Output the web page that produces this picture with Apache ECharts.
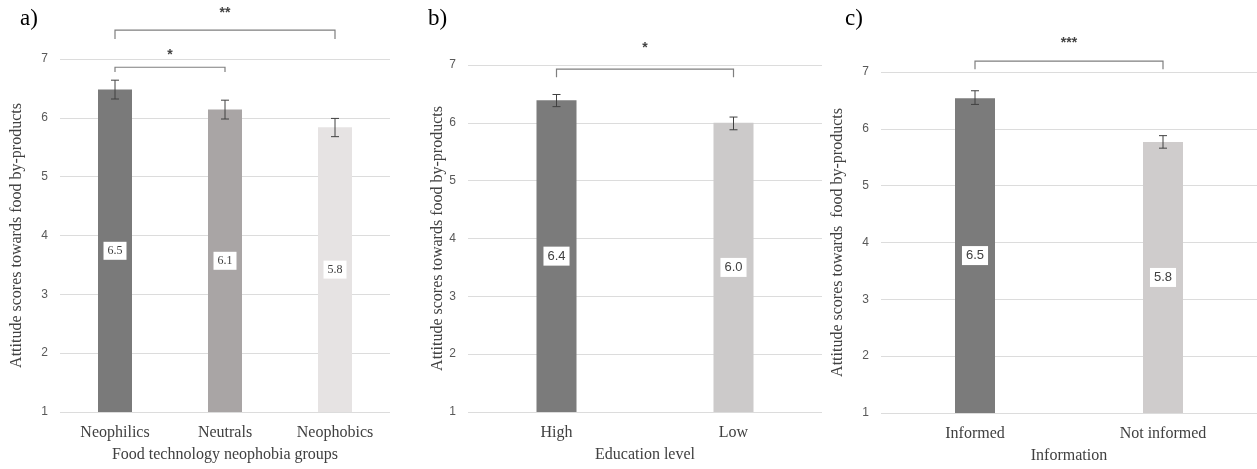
<!DOCTYPE html>
<html>
<head>
    <meta charset="utf-8">
    <title>Attitude scores</title>
    <script src="https://cdn.jsdelivr.net/npm/echarts@6/dist/echarts.min.js"></script>
</head>
<body style="margin:0;background:#fff;">
    <div id="main" style="width:1257px;height:469px;"></div>
    <script type="text/javascript">
        // a) food technology neophobia groups
        var groupsA = ['Neophilics', 'Neutrals', 'Neophobics'];
        var meanA = [6.48, 6.14, 5.84];
        var errLowA = [6.32, 5.98, 5.68];
        var errHighA = [6.64, 6.30, 5.99];
        var colorsA = ['#7a7a7a', '#a9a5a5', '#e6e3e3'];
        // brackets: [from, to, level, tickEnd, starLevel, stars]
        var bracketsA = [[0, 2, 7.49, 7.34, 7.78, '**'], [0, 1, 6.86, 6.78, 7.07, '*']];

        // b) education level
        var groupsB = ['High', 'Low'];
        var meanB = [6.39, 6.0];
        var errLowB = [6.28, 5.88];
        var errHighB = [6.49, 6.10];
        var colorsB = ['#7b7b7b', '#cccaca'];
        var bracketsB = [[0, 1, 6.93, 6.79, 7.29, '*']];

        // c) information
        var groupsC = ['Informed', 'Not informed'];
        var meanC = [6.54, 5.77];
        var errLowC = [6.43, 5.66];
        var errHighC = [6.67, 5.88];
        var colorsC = ['#7b7b7b', '#cfcccc'];
        var bracketsC = [[0, 1, 7.19, 7.05, 7.5, '***']];

        var yTitleA = 'Attitude scores towards food by-products';
        var yTitleC = 'Attitude scores towards  food by-products';
        var xTitles = ['Food technology neophobia groups', 'Education level', 'Information'];

        var serif = 'Liberation Serif';
        var sans = 'Liberation Sans';

        function xAx(i, cats, title) {
            return {
                type: 'category', gridIndex: i, data: cats,
                axisLine: { show: false }, axisTick: { show: false },
                axisLabel: { fontFamily: serif, fontSize: 16, color: '#404040', margin: 13 },
                name: title, nameLocation: 'middle', nameGap: 35,
                nameTextStyle: { fontFamily: serif, fontSize: 16, color: '#404040' }
            };
        }
        function yAx(i, title, gap) {
            return {
                type: 'value', gridIndex: i, min: 1, max: 7, interval: 1,
                axisLine: { show: false }, axisTick: { show: false },
                axisLabel: { fontFamily: sans, fontSize: 12, color: '#595959', margin: 12 },
                splitLine: { lineStyle: { color: '#dcdcdc', width: 1 } },
                name: title, nameLocation: 'middle', nameGap: gap, nameRotate: 90,
                nameTextStyle: { fontFamily: serif, fontSize: 16, color: '#404040' }
            };
        }
        function barSeries(i, vals, colors, width, font, size) {
            return {
                type: 'bar', xAxisIndex: i, yAxisIndex: i, barWidth: width,
                data: vals.map(function (v, k) { return { value: v, itemStyle: { color: colors[k] } }; }),
                label: {
                    show: true, position: 'inside',
                    formatter: function (p) { return p.value.toFixed(1); },
                    backgroundColor: '#fff', padding: [3, 4], color: '#404040',
                    fontFamily: font, fontSize: size
                },
                silent: true
            };
        }
        function errSeries(i, lows, highs) {
            return {
                type: 'custom', xAxisIndex: i, yAxisIndex: i,
                data: lows.map(function (l, k) { return [k, l, highs[k]]; }),
                encode: { x: 0, y: [1, 2] },
                renderItem: function (params, api) {
                    var lo = api.coord([api.value(0), api.value(1)]);
                    var hi = api.coord([api.value(0), api.value(2)]);
                    var s = { stroke: '#404040', lineWidth: 1 };
                    return {
                        type: 'group', children: [
                            { type: 'line', shape: { x1: lo[0], y1: lo[1], x2: hi[0], y2: hi[1] }, style: s },
                            { type: 'line', shape: { x1: lo[0] - 4, y1: lo[1], x2: lo[0] + 4, y2: lo[1] }, style: s },
                            { type: 'line', shape: { x1: hi[0] - 4, y1: hi[1], x2: hi[0] + 4, y2: hi[1] }, style: s }
                        ]
                    };
                },
                z: 5, silent: true
            };
        }
        function bracketSeries(i, list) {
            return {
                type: 'custom', xAxisIndex: i, yAxisIndex: i, clip: false,
                data: list.map(function (b) { return b.slice(0, 5); }),
                encode: { x: [0, 1], y: [2, 3, 4] },
                renderItem: function (params, api) {
                    var a = api.coord([api.value(0), api.value(2)]);
                    var b = api.coord([api.value(1), api.value(2)]);
                    var t = api.coord([api.value(0), api.value(3)]);
                    var s = api.coord([api.value(0), api.value(4)]);
                    var mid = (a[0] + b[0]) / 2;
                    return {
                        type: 'group', children: [
                            {
                                type: 'polyline',
                                shape: { points: [[a[0], t[1]], [a[0], a[1]], [b[0], a[1]], [b[0], t[1]]] },
                                style: { stroke: '#7f7f7f', lineWidth: 1.2, fill: null }
                            },
                            {
                                type: 'text', x: mid, y: s[1],
                                style: {
                                    text: list[params.dataIndex][5], align: 'center', verticalAlign: 'middle',
                                    fontFamily: sans, fontSize: 14, fontWeight: 'bold', fill: '#444'
                                }
                            }
                        ]
                    };
                },
                silent: true
            };
        }

        var chart = echarts.init(document.getElementById('main'));
        chart.setOption({
            backgroundColor: '#fff',
            animation: false,
            grid: [
                { left: 60, top: 59, width: 330, height: 353 },
                { left: 468, top: 65, width: 354, height: 347 },
                { left: 881, top: 72, width: 376, height: 341 }
            ],
            graphic: [
                { type: 'text', left: 20, top: 7, style: { text: 'a)', fontFamily: serif, fontSize: 23, fill: '#000' } },
                { type: 'text', left: 428, top: 7, style: { text: 'b)', fontFamily: serif, fontSize: 23, fill: '#000' } },
                { type: 'text', left: 845, top: 7, style: { text: 'c)', fontFamily: serif, fontSize: 23, fill: '#000' } }
            ],
            xAxis: [xAx(0, groupsA, xTitles[0]), xAx(1, groupsB, xTitles[1]), xAx(2, groupsC, xTitles[2])],
            yAxis: [yAx(0, yTitleA, 35), yAx(1, yTitleA, 22), yAx(2, yTitleC, 35)],
            series: [
                barSeries(0, meanA, colorsA, 34, serif, 12),
                barSeries(1, meanB, colorsB, 40, sans, 13),
                barSeries(2, meanC, colorsC, 40, sans, 13),
                errSeries(0, errLowA, errHighA),
                errSeries(1, errLowB, errHighB),
                errSeries(2, errLowC, errHighC),
                bracketSeries(0, bracketsA),
                bracketSeries(1, bracketsB),
                bracketSeries(2, bracketsC)
            ]
        });
    </script>
</body>
</html>
